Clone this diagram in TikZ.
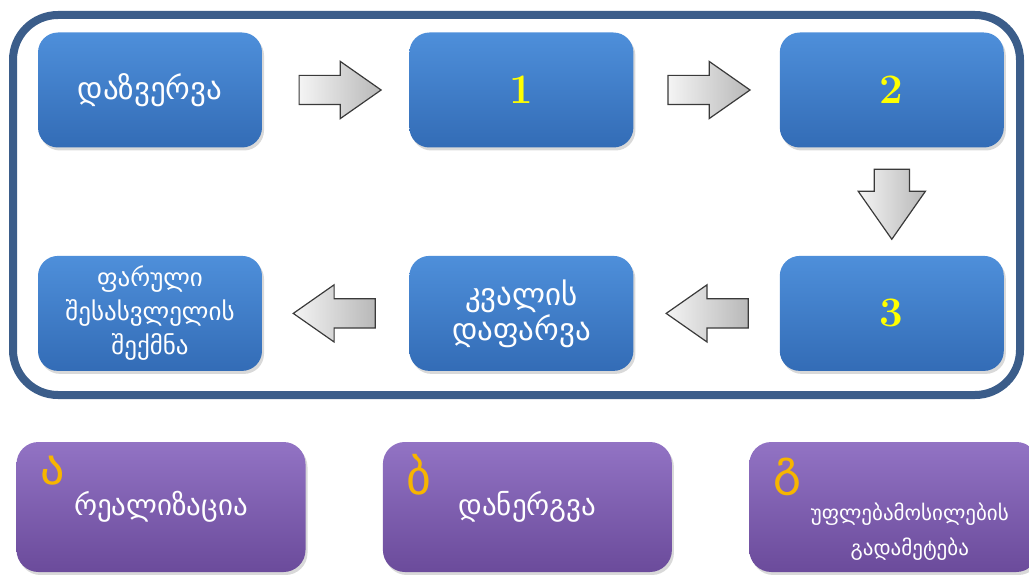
\documentclass[tikz,border=0pt]{standalone}
\usepackage{fontspec}
\newfontfamily\geofont{DejaVu Sans}
\usetikzlibrary{shapes.arrows, positioning, shadows}

\definecolor{framecol}{HTML}{3B5D8A}
\definecolor{stagetop}{HTML}{4E8FDA}
\definecolor{stagebot}{HTML}{336CB6}
\definecolor{tasktop}{HTML}{9273C4}
\definecolor{taskbot}{HTML}{6B4B9B}
\definecolor{arrlight}{HTML}{F4F4F4}
\definecolor{arrdark}{HTML}{B8B8B8}
\definecolor{arrline}{HTML}{3A3A3A}
\definecolor{numcol}{HTML}{FFFF00}
\definecolor{letcol}{HTML}{F7B500}

\begin{document}
\begin{tikzpicture}[x=1pt, y=-1pt,
        stage/.style={rectangle, rounded corners=20pt, top color=stagetop, bottom color=stagebot,
                      minimum width=224pt, minimum height=115pt, text=white, align=center,
                      font=\geofont\fontsize{31}{35}\selectfont,
                      drop shadow={opacity=0.3, shadow xshift=2pt, shadow yshift=-3pt}},
        numtext/.style={text=numcol, font=\bfseries\fontsize{42}{42}\selectfont},
        task/.style={rectangle, rounded corners=22pt, top color=tasktop, bottom color=taskbot,
                     minimum width=289pt, minimum height=130pt, text=white, align=center,
                     font=\geofont\fontsize{29}{35}\selectfont,
                     drop shadow={opacity=0.3, shadow xshift=2pt, shadow yshift=-3pt}},
        tasktext/.style={text=white, align=center, font=\geofont\fontsize{21}{35}\selectfont},
        tasklet/.style={anchor=north west, inner sep=0pt, text=letcol,
                        font=\geofont\fontsize{48}{48}\selectfont},
        blockarr/.style={single arrow, draw=arrline, line width=1.2pt, left color=arrlight,
                         right color=arrdark, minimum height=82pt, inner xsep=0pt, inner ysep=14pt,
                         single arrow head extend=14pt, single arrow tip angle=70},
        downarr/.style={blockarr, shape border rotate=270, minimum height=70pt,
                        inner xsep=17pt, inner ysep=0pt, single arrow head extend=16pt}
    ]
        \useasboundingbox (0,0) rectangle (1029,575);

        % frame round the cycle
        \draw[framecol, line width=8pt, rounded corners=45pt] (13,15) rectangle (1020,395);

        \node[stage] (recon) at (150,90) {დაზვერვა};
        \node[stage, numtext, right=147pt of recon] (one) {1};
        \node[stage, numtext, right=146pt of one] (two) {2};
        \node[stage, numtext, below=108pt of two] (three) {3};
        \node[stage, left=146pt of three] (cover) {კვალის\\დაფარვა};
        \node[stage, left=147pt of cover, font=\geofont\fontsize{25}{34}\selectfont] (backdoor)
            {ფარული\\შესასვლელის\\შექმნა};

        \path (recon) -- node[blockarr, xshift=-6pt] {} (one);
        \path (one) -- node[blockarr, xshift=-8pt] {} (two);
        \path (two) -- node[downarr, yshift=10pt] {} (three);
        \path (three) -- node[blockarr, shape border rotate=180, xshift=11pt] {} (cover);
        \path (cover) -- node[blockarr, shape border rotate=180, xshift=9pt] {} (backdoor);

        % phases below the frame
        \node[task] (build) at (161,507) {რეალიზაცია};
        \node[task, right=77pt of build] (deploy) {დანერგვა};
        \node[task, right=77pt of deploy] (escal) {};
        \node[tasktext] (escaltext) at ([xshift=16pt, yshift=-25pt]escal.center)
            {უფლებამოსილების\\გადამეტება};

        \node[tasklet] (la) at ([xshift=24pt, yshift=-14pt]build.north west) {ა};
        \node[tasklet] (lb) at ([xshift=24pt, yshift=-12pt]deploy.north west) {ბ};
        \node[tasklet] (lc) at ([xshift=24pt, yshift=-16pt]escal.north west) {გ};
    \end{tikzpicture}
\end{document}
